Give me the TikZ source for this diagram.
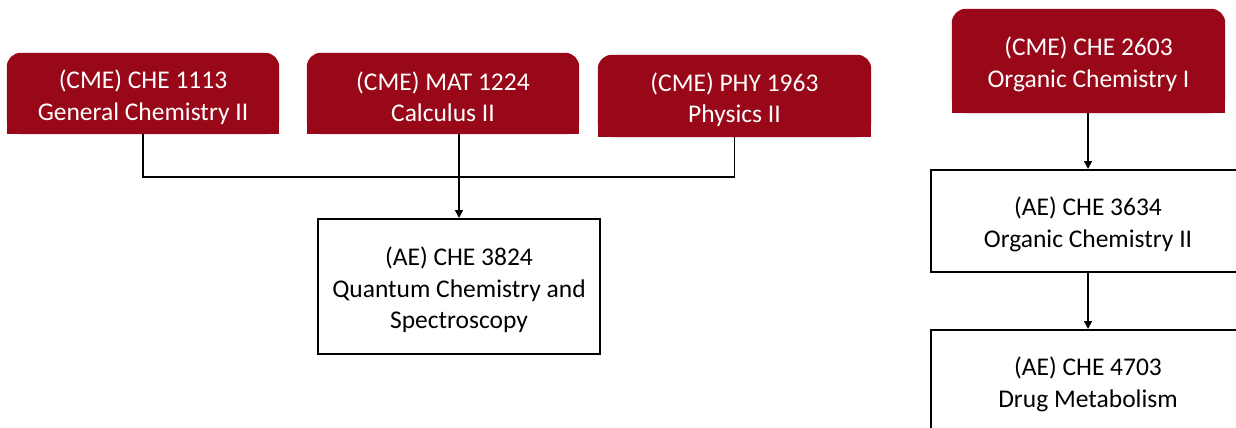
\documentclass[tikz,border=0pt]{standalone}
\usepackage{fontspec}
\setmainfont{Carlito}
\usetikzlibrary{arrows.meta,backgrounds}
\definecolor{cme}{RGB}{152,8,24}
\tikzset{
  base/.style={rectangle, inner sep=0pt},
  cmebox/.style={base},
  aebox/.style={base, draw=black, line width=2pt, fill=white},
  txt/.style={inner sep=0pt, align=center, font=\fontsize{25.5}{31.5}\selectfont, yshift=-3.5pt},
  wtxt/.style={txt, text=white},
  btxt/.style={txt, text=black},
  conn/.style={line width=1.6pt, draw=black},
  arr/.style={conn, -{Triangle[width=8pt,length=8pt]}}
}
\newcommand{\redfill}[1]{%
  \fill[cme, rounded corners=14pt] (#1.south west) rectangle (#1.north east);
  \fill[cme] (#1.south west) rectangle (#1.east);}
\begin{document}
\begin{tikzpicture}[x=1pt,y=-1pt]
\useasboundingbox (0,0) rectangle (1236,428);
\clip (0,0) rectangle (1236,428);
% top row
\node[cmebox, minimum width=272pt, minimum height=81pt] (b1) at (143,93.5) {};
\node[cmebox, minimum width=272pt, minimum height=81pt] (b2) at (443,93.5) {};
\node[cmebox, minimum width=273pt, minimum height=82pt] (b3) at (734.5,96) {};
\node[aebox, minimum width=282pt, minimum height=135pt] (ae1) at (459,286.5) {};
% right column
\node[cmebox, minimum width=273pt, minimum height=104pt] (r1) at (1088.5,61) {};
\node[aebox, minimum width=314pt, minimum height=102pt] (r2) at (1088,221) {};
\node[aebox, minimum width=314pt, minimum height=102pt] (r3) at (1088,381) {};
\begin{scope}[on background layer]
  \redfill{b1}
  \redfill{b2}
  \redfill{b3}
  \redfill{r1}
\end{scope}
% texts
\node[wtxt] (b1t) at (b1) {(CME) CHE 1113\\General Chemistry II};
\node[wtxt] (b2t) at (b2) {(CME) MAT 1224\\Calculus II};
\node[wtxt] (b3t) at (b3) {(CME) PHY 1963\\Physics II};
\node[btxt] (ae1t) at (ae1) {(AE) CHE 3824\\Quantum Chemistry and\\Spectroscopy};
\node[wtxt] (r1t) at (r1) {(CME) CHE 2603\\Organic Chemistry I};
\node[btxt] (r2t) at (r2) {(AE) CHE 3634\\Organic Chemistry II};
\node[btxt] (r3t) at (r3) {(AE) CHE 4703\\Drug Metabolism};
% connectors
\coordinate (j) at (460,177);
\draw[conn] (b1.south) |- (j) -| (b3.south);
\draw[arr] (ae1.north |- b2.south) -- (ae1.north);
\draw[arr] (r1.south -| r2.north) -- (r2.north);
\draw[arr] (r2.south) -- (r3.north);
\end{tikzpicture}
\end{document}
